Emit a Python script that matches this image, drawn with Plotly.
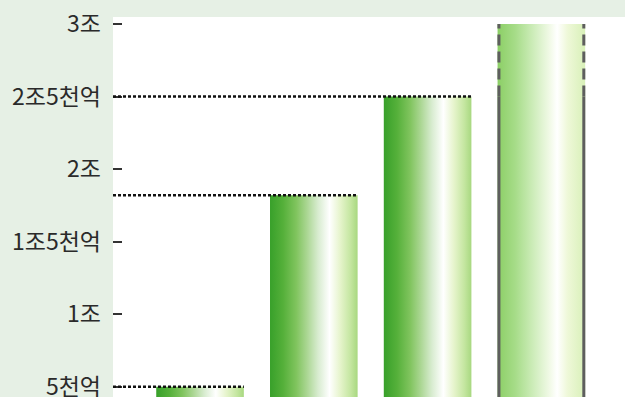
import plotly.graph_objects as go

# Values in 조 (trillion won)
positions = [0, 1, 2, 3]
values = [0.5, 1.82, 2.5, 3.0]
tick_vals = [0.5, 1.0, 1.5, 2.0, 2.5, 3.0]
tick_text = ["5천억", "1조", "1조5천억", "2조", "2조5천억", "3조"]

bar_width = 0.77
x_range = [-0.765, 3.735]
y_range = [0.429, 3.048]

green_scale = [
    [0.0, "#38a02a"], [0.15, "#55b03a"], [0.3, "#80c45e"], [0.42, "#aad692"],
    [0.55, "#d8ecd0"], [0.68, "#ffffff"], [0.8, "#e6f4cc"], [0.92, "#c4e6a0"],
    [1.0, "#a8d880"],
]
pale_scale = [
    [0.0, "#8ccf66"], [0.2, "#a6dc88"], [0.4, "#ccecb8"], [0.6, "#f2fae8"],
    [0.68, "#ffffff"], [0.8, "#eef8d8"], [1.0, "#d8f0b8"],
]

fig = go.Figure()
shapes = []
last = len(values) - 1
for i, (p, v) in enumerate(zip(positions, values)):
    x0, x1 = p - bar_width / 2, p + bar_width / 2
    fig.add_trace(go.Scatter(
        x=[x0, x1, x1, x0, x0], y=[0, 0, v, v, 0],
        mode="lines", fill="toself", line=dict(width=0),
        fillgradient=dict(type="horizontal",
                          colorscale=pale_scale if i == last else green_scale),
        hoverinfo="skip", showlegend=False,
    ))
    if i < last:
        # dotted guide from the axis to the bar top
        shapes.append(dict(type="line", xref="x", yref="y",
                           x0=x_range[0], x1=x1, y0=v, y1=v,
                           line=dict(color="#111111", width=2.5, dash="3px,2px")))
    else:
        # grey side frames on the tallest bar
        for xe in (x0 + 0.012, x1 - 0.012):
            shapes.append(dict(type="line", xref="x", yref="y",
                               x0=xe, x1=xe, y0=0, y1=values[2],
                               line=dict(color="#5e5e5e", width=3)))
            shapes.append(dict(type="line", xref="x", yref="y",
                               x0=xe, x1=xe, y0=values[2], y1=v,
                               line=dict(color="#5e5e5e", width=3, dash="11px,6px")))

# fine lattice texture over the gradient fills
fig.add_trace(go.Bar(
    x=positions, y=values, width=bar_width,
    marker=dict(color="rgba(0,0,0,0)", line=dict(width=0),
                pattern=dict(shape="+", size=3, solidity=0.35,
                             fgcolor="rgba(255,255,255,0.35)",
                             bgcolor="rgba(0,0,0,0)")),
    hoverinfo="skip", showlegend=False,
))

fig.update_layout(
    width=625, height=397,
    margin=dict(l=113, r=0, t=17, b=0, autoexpand=False),
    paper_bgcolor="#e6f0e5",
    plot_bgcolor="#ffffff",
    shapes=shapes,
    showlegend=False,
)
fig.update_xaxes(range=x_range, showticklabels=False, showgrid=False,
                 zeroline=False, showline=False, ticks="", automargin=False)
fig.update_yaxes(range=y_range, tickvals=tick_vals, ticktext=tick_text,
                 ticks="inside", ticklen=9, tickwidth=1.5, tickcolor="#333333",
                 ticklabelstandoff=11, ticklabeloverflow="allow", automargin=False,
                 tickfont=dict(family="Noto Sans CJK KR", size=23, color="#2a2a2a"),
                 showgrid=False, zeroline=False, showline=False)

fig.write_html("out.html")
